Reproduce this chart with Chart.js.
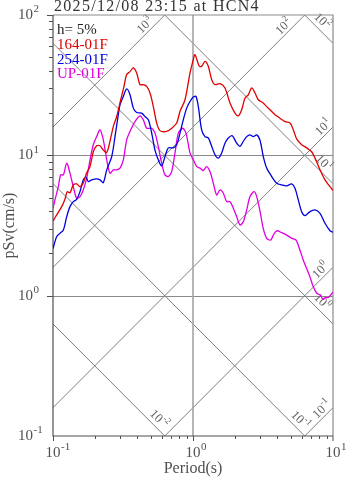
<!DOCTYPE html>
<html>
<head>
<meta charset="utf-8">
<script src="https://cdn.jsdelivr.net/npm/chart.js@4.4.1/dist/chart.umd.min.js"></script>
<style>
  html, body { margin: 0; padding: 0; background: #fff; }
  #wrap { width: 347px; height: 478px; position: relative; }
</style>
</head>
<body>
<div id="wrap"><canvas id="spec"></canvas></div>
<script>
// response spectra (period in s, pSv in cm/s)
const periodRed = [0.1, 0.1062, 0.1154, 0.1219, 0.1265, 0.1322, 0.1396, 0.1476, 0.1559, 0.1645, 0.174, 0.1838, 0.1941, 0.2051, 0.2167, 0.2288, 0.242, 0.2553, 0.2698, 0.2851, 0.301, 0.3213, 0.336, 0.3548, 0.3748, 0.396, 0.4182, 0.4416, 0.4667, 0.4932, 0.5205, 0.5502, 0.5809, 0.6487, 0.7041, 0.7647, 0.8077, 0.8768, 0.9518, 1.005, 1.033, 1.109, 1.153, 1.218, 1.286, 1.36, 1.436, 1.559, 1.692, 1.837, 1.995, 2.107, 2.227, 2.352, 2.483, 2.625, 2.773, 2.927, 3.178, 3.268, 3.548, 3.852, 4.182, 4.54, 4.932, 5.205, 5.502, 5.973, 6.487, 7.041, 7.438, 8.077, 8.768, 9.518, 10];
const svRed = [3.40, 3.76, 4.31, 4.89, 5.51, 5.40, 6.15, 6.25, 5.98, 6.36, 7.50, 8.32, 10.6, 11.7, 11.7, 10.9, 10.5, 12.6, 16.1, 18.9, 23.7, 31.0, 37.6, 39.5, 42.0, 38.6, 31.9, 31.9, 31.0, 27.8, 22.3, 17.0, 15.0, 14.8, 15.6, 17.0, 20.6, 24.9, 38.6, 48.1, 52.2, 43.1, 43.1, 46.8, 43.1, 34.6, 31.9, 32.4, 30.2, 23.6, 20.0, 19.1, 21.1, 25.6, 27.0, 30.2, 27.8, 24.9, 23.6, 22.9, 21.1, 19.5, 18.4, 17.4, 17.0, 15.2, 13.1, 11.9, 11.3, 10.6, 9.55, 7.88, 6.68, 5.98, 5.61];

const periodBlue = [0.1, 0.1062, 0.1122, 0.1186, 0.1253, 0.1322, 0.1396, 0.1476, 0.1559, 0.1645, 0.1721, 0.1788, 0.1889, 0.2051, 0.2167, 0.2288, 0.242, 0.2626, 0.2773, 0.2927, 0.301, 0.3179, 0.336, 0.3548, 0.3748, 0.396, 0.4302, 0.454, 0.4797, 0.507, 0.5352, 0.5651, 0.5973, 0.631, 0.6665, 0.7236, 0.7647, 0.8077, 0.8521, 0.9014, 0.9518, 1.005, 1.05, 1.091, 1.153, 1.218, 1.286, 1.36, 1.436, 1.516, 1.603, 1.692, 1.787, 1.908, 2.051, 2.166, 2.288, 2.418, 2.553, 2.697, 2.851, 3.01, 3.178, 3.36, 3.65, 3.96, 4.302, 4.667, 5.07, 5.352, 5.651, 5.973, 6.31, 6.849, 7.438, 8.077, 8.768, 9.518, 10];
const svBlue = [2.17, 2.63, 2.78, 2.94, 3.66, 4.31, 4.68, 4.86, 5.51, 6.68, 6.98, 6.50, 6.68, 6.79, 6.68, 6.39, 7.88, 9.80, 13.6, 19.5, 22.9, 26.3, 29.7, 27.0, 21.7, 20.2, 20.0, 18.9, 17.9, 14.4, 10.9, 9.29, 8.41, 9.80, 11.3, 11.3, 11.9, 14.4, 17.9, 21.7, 24.2, 26.0, 26.3, 22.3, 15.2, 13.6, 13.3, 11.6, 10.1, 9.55, 10.4, 12.2, 13.3, 13.8, 12.2, 11.6, 12.6, 13.6, 14.0, 13.6, 14.0, 12.8, 9.80, 8.11, 7.06, 6.33, 6.15, 6.05, 6.25, 5.83, 4.81, 3.97, 3.72, 3.97, 4.08, 3.86, 3.28, 2.90, 2.83];

const periodMag = [0.1, 0.1033, 0.1091, 0.1135, 0.1186, 0.1253, 0.1322, 0.1396, 0.1476, 0.1559, 0.1645, 0.174, 0.1838, 0.1941, 0.2051, 0.2167, 0.2288, 0.242, 0.2553, 0.2698, 0.2851, 0.301, 0.3179, 0.336, 0.3548, 0.3852, 0.4182, 0.4416, 0.4667, 0.507, 0.5352, 0.5651, 0.5973, 0.631, 0.6665, 0.7041, 0.7438, 0.7857, 0.8441, 0.8913, 0.9518, 1.005, 1.063, 1.122, 1.185, 1.252, 1.322, 1.397, 1.476, 1.559, 1.646, 1.74, 1.837, 1.94, 2.051, 2.166, 2.288, 2.418, 2.553, 2.726, 2.851, 3.01, 3.178, 3.36, 3.589, 3.748, 3.96, 4.302, 4.667, 5.07, 5.441, 5.809, 6.137, 6.487, 6.849, 7.223, 7.647, 8.077, 8.521, 8.768, 9.251, 10];
const svMag = [4.20, 4.81, 5.98, 7.26, 7.26, 8.79, 7.46, 5.98, 4.94, 5.08, 5.67, 6.87, 9.29, 11.9, 13.6, 15.2, 12.9, 9.29, 7.46, 7.88, 7.88, 8.11, 9.29, 12.9, 14.8, 17.4, 19.1, 17.9, 15.6, 15.6, 14.4, 11.6, 8.79, 7.26, 7.06, 7.66, 10.4, 14.4, 15.6, 14.4, 10.4, 9.29, 8.32, 8.11, 7.79, 8.32, 7.66, 6.33, 5.22, 5.67, 5.37, 4.68, 4.68, 4.20, 3.66, 3.19, 3.37, 4.08, 5.08, 5.51, 5.08, 4.00, 3.00, 2.56, 2.49, 2.70, 2.90, 2.81, 2.70, 2.56, 2.49, 2.11, 1.79, 1.56, 1.36, 1.16, 1.04, 1.01, 0.94, 0.97, 0.97, 1.06];

const seriesNames = ['164-01F', '254-01F', 'UP-01F'];
const seriesColors = ['#e00000', '#0000e0', '#e000e0'];
const titleText = '2025/12/08 23:15 at HCN4';
const dampingText = 'h= 5%';

// tripartite guide lines: acceleration (cm/s2) and displacement (cm)
const accLevels = [0.1, 1, 10, 100, 1000];
const accLabelPeriod = [9.0, 8.8, 9.2, 4.8, 0.49];
const dispLevels = [0.01, 0.1, 1, 10, 100];
const dispLabelPeriod = [0.52, 5.3, 7.6, 7.8, 7.6];

const xTickExp = [-1, 0, 1];
const yTickExp = [-1, 0, 1, 2];

const SERIF = '"Liberation Serif", "DejaVu Serif", serif';
const TWO_PI = 2 * Math.PI;

function toPoints(px, py) {
    return px.map((t, i) => ({ x: t, y: py[i] }));
}

// "10" with a raised exponent; anchor 'center' centres the base, 'right' right-aligns the base, 'whole' centres all
function drawPow(ctx, x, y, exp, size, anchor) {
    const supSize = Math.round(size * 0.7);
    ctx.font = size + 'px ' + SERIF;
    const bw = ctx.measureText('10').width;
    ctx.font = supSize + 'px ' + SERIF;
    const sw = ctx.measureText(String(exp)).width;
    let bx;
    if (anchor === 'right') bx = x - bw;
    else if (anchor === 'whole') bx = x - (bw + sw) / 2;
    else bx = x - bw / 2;
    ctx.textAlign = 'left';
    ctx.textBaseline = 'middle';
    ctx.font = size + 'px ' + SERIF;
    ctx.fillText('10', bx, y);
    ctx.font = supSize + 'px ' + SERIF;
    ctx.fillText(String(exp), bx + bw + 0.5, y - size * 0.38);
}

const overlay = {
    id: 'overlay',
    beforeDatasetsDraw(chart) {
        const ctx = chart.ctx;
        const xs = chart.scales.x, ys = chart.scales.y;
        const a = chart.chartArea;
        ctx.save();

        // diagonal guide lines
        ctx.beginPath();
        ctx.rect(a.left, a.top, a.right - a.left, a.bottom - a.top);
        ctx.clip();
        ctx.strokeStyle = '#707070';
        ctx.lineWidth = 0.9;
        accLevels.forEach(acc => {
            ctx.beginPath();
            ctx.moveTo(xs.getPixelForValue(0.1), ys.getPixelForValue(acc * 0.1 / TWO_PI));
            ctx.lineTo(xs.getPixelForValue(10), ys.getPixelForValue(acc * 10 / TWO_PI));
            ctx.stroke();
        });
        dispLevels.forEach(d => {
            ctx.beginPath();
            ctx.moveTo(xs.getPixelForValue(0.1), ys.getPixelForValue(TWO_PI * d / 0.1));
            ctx.lineTo(xs.getPixelForValue(10), ys.getPixelForValue(TWO_PI * d / 10));
            ctx.stroke();
        });

        // grid at decades
        ctx.strokeStyle = '#8a8a8a';
        ctx.lineWidth = 1.2;
        [1, 10].forEach(v => {
            const y = Math.round(ys.getPixelForValue(v)) + 0.5;
            ctx.beginPath(); ctx.moveTo(a.left, y); ctx.lineTo(a.right, y); ctx.stroke();
        });
        ctx.strokeStyle = '#a4a4a4';
        ctx.lineWidth = 1.6;
        const x1 = xs.getPixelForValue(1);
        ctx.beginPath(); ctx.moveTo(x1, a.top); ctx.lineTo(x1, a.bottom); ctx.stroke();
        ctx.restore();

        // guide labels
        ctx.save();
        ctx.fillStyle = '#606060';
        accLevels.forEach((acc, i) => {
            const t = accLabelPeriod[i];
            const px = xs.getPixelForValue(t), py = ys.getPixelForValue(acc * t / TWO_PI);
            ctx.save();
            ctx.translate(px - 4.5, py - 4.5);
            ctx.rotate(-Math.PI / 4);
            drawPow(ctx, 0, 0, Math.round(Math.log10(acc)), 12.5, 'whole');
            ctx.restore();
        });
        dispLevels.forEach((d, i) => {
            const t = dispLabelPeriod[i];
            const px = xs.getPixelForValue(t), py = ys.getPixelForValue(TWO_PI * d / t);
            ctx.save();
            ctx.translate(px + 5.5, py - 5.5);
            ctx.rotate(Math.PI / 4);
            drawPow(ctx, 0, 0, Math.round(Math.log10(d)), 12.5, 'whole');
            ctx.restore();
        });
        ctx.restore();

        // frame
        ctx.save();
        ctx.strokeStyle = '#8c8c8c';
        ctx.lineWidth = 1.2;
        ctx.beginPath();
        ctx.moveTo(a.left, a.top); ctx.lineTo(a.right, a.top); ctx.lineTo(a.right, a.bottom);
        ctx.stroke();
        ctx.strokeStyle = '#505050';
        ctx.beginPath();
        ctx.moveTo(a.left, a.top); ctx.lineTo(a.left, a.bottom); ctx.lineTo(a.right, a.bottom);
        ctx.stroke();

        // ticks (outside)
        ctx.lineWidth = 1;
        for (let e = -1; e <= 1; e++) {
            for (let m = 1; m <= 9; m++) {
                const v = m * Math.pow(10, e);
                const y = Math.round(ys.getPixelForValue(v * 10)) + 0.5;
                ctx.beginPath(); ctx.moveTo(a.left - (m === 1 ? 6 : 4), y); ctx.lineTo(a.left, y); ctx.stroke();
                if (e <= 0) {
                    const x = Math.round(xs.getPixelForValue(v)) + 0.5;
                    ctx.beginPath(); ctx.moveTo(x, a.bottom); ctx.lineTo(x, a.bottom + (m === 1 ? 5 : 3)); ctx.stroke();
                }
            }
        }
        ctx.beginPath(); ctx.moveTo(a.right, a.bottom); ctx.lineTo(a.right, a.bottom + 5); ctx.stroke();
        ctx.restore();
    },
    afterDraw(chart) {
        const ctx = chart.ctx;
        const xs = chart.scales.x, ys = chart.scales.y;
        const a = chart.chartArea;
        ctx.save();

        // tick labels
        ctx.fillStyle = '#505050';
        xTickExp.forEach(e => drawPow(ctx, xs.getPixelForValue(Math.pow(10, e)), a.bottom + 17, e, 15, 'center'));
        yTickExp.forEach(e => drawPow(ctx, 33, ys.getPixelForValue(Math.pow(10, e)), e, 15, 'right'));

        // axis titles
        ctx.font = '16px ' + SERIF;
        ctx.textAlign = 'center';
        ctx.textBaseline = 'alphabetic';
        ctx.fillText('Period(s)', (a.left + a.right) / 2, 473);
        ctx.save();
        ctx.translate(14, (a.top + a.bottom) / 2);
        ctx.rotate(-Math.PI / 2);
        ctx.fillText('pSv(cm/s)', 0, 0);
        ctx.restore();

        // title
        ctx.fillStyle = '#333';
        ctx.textAlign = 'left';
        ctx.font = '16px ' + SERIF;
        ctx.letterSpacing = '1.3px';
        ctx.fillText(titleText, 54, 11);
        ctx.letterSpacing = '0px';

        // legend
        ctx.font = '15px ' + SERIF;
        ctx.fillStyle = '#222';
        ctx.fillText(dampingText, 57, 34);
        seriesNames.forEach((n, i) => {
            ctx.fillStyle = seriesColors[i];
            ctx.fillText(n, 57, 49 + i * 14.7);
        });
        ctx.restore();
    }
};

const chart = new Chart(document.getElementById('spec'), {
    type: 'line',
    data: {
        datasets: [
            { label: seriesNames[0], data: toPoints(periodRed, svRed), borderColor: seriesColors[0] },
            { label: seriesNames[1], data: toPoints(periodBlue, svBlue), borderColor: seriesColors[1] },
            { label: seriesNames[2], data: toPoints(periodMag, svMag), borderColor: seriesColors[2] }
        ].map(ds => Object.assign(ds, { borderWidth: 1.3, pointRadius: 0, fill: false, tension: 0.3 }))
    },
    options: {
        responsive: true,
        maintainAspectRatio: false,
        animation: false,
        layout: { padding: { top: 15, right: 14, left: 0, bottom: 0 } },
        plugins: { legend: { display: false }, tooltip: { enabled: false } },
        scales: {
            x: {
                type: 'logarithmic', min: 0.1, max: 10,
                ticks: { display: false }, grid: { display: false }, border: { display: false },
                afterFit: s => { s.height = 42; }
            },
            y: {
                type: 'logarithmic', min: 0.1, max: 100,
                ticks: { display: false }, grid: { display: false }, border: { display: false },
                afterFit: s => { s.width = 53; }
            }
        }
    },
    plugins: [overlay]
});
</script>
</body>
</html>
